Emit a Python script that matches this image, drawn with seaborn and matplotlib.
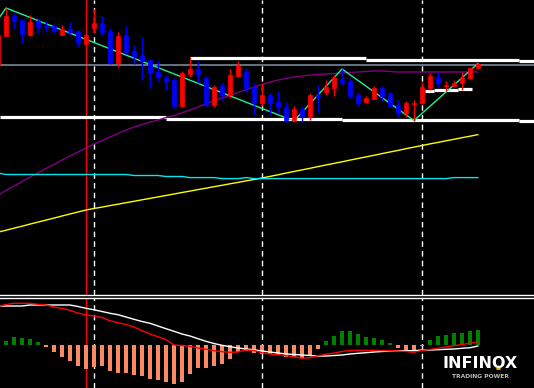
import numpy as np
import pandas as pd
import matplotlib
matplotlib.use("Agg")
import matplotlib.pyplot as plt
from matplotlib.lines import Line2D
import seaborn as sns

# bar -1 is the half cut candle on the left edge
bars = list(range(-1, 60))

opens = [235, 264, 284, 280, 265, 279, 274, 274, 265, 271, 269, 256, 272, 277, 269, 237,
         265, 249, 245, 240, 228, 222, 220, 194, 226, 231, 222, 195, 214, 205, 224, 228,
         213, 197, 205, 198, 193, 180, 191, 183, 205, 208, 212, 221, 219, 205, 198, 201,
         212, 207, 195, 187, 196, 197, 212, 223, 214.5, 214, 217, 222, 232]
highs = [268, 292, 287, 281, 285, 282, 279, 276, 275, 278, 270, 266, 291, 284, 272, 268,
         274, 255, 263, 241, 240, 225, 222, 229, 243, 239, 224, 215, 217, 231, 239, 232,
         217, 217, 207, 209, 198, 194, 194, 207, 215, 220, 225, 231, 222, 208, 204, 214,
         214, 208, 200, 199, 200, 218, 227, 228, 219, 220, 228, 232, 237]
lows = [234, 264, 271, 257, 264, 267, 268, 267, 265, 265, 253, 255, 267, 265, 236, 233,
        246, 236, 220, 212, 219, 210, 192, 193, 223, 217, 194, 193, 200, 202, 223, 208,
        185, 194, 185, 187, 178, 178, 178, 180, 188, 205, 204, 215, 202, 194, 197, 201,
        199, 193, 183, 183, 179, 196, 210, 213, 209, 213, 210, 221, 231]
closes = [265, 284, 279, 266, 278, 273, 273, 269, 271, 268, 257, 265, 277, 268, 237, 264,
          248, 244, 239, 227, 223, 219, 194, 227, 231, 226, 195, 213, 205, 225, 234, 212,
          197, 205, 197, 193, 180, 191, 183, 205, 203, 213, 222, 218, 204, 197, 202, 212,
          204, 194, 187, 197, 197, 213, 224, 217, 215, 217, 222, 232, 236]

ma_purple = [105, 109.5, 114, 118.5, 123, 127, 131.5, 135.5, 140, 144, 148, 152, 156, 159.5,
             163, 166.5, 170, 173, 175.5, 178, 180, 182.5, 184.5, 187, 190, 193, 196.5, 199.5,
             202, 204.5, 207.5, 210.5, 213, 215.5, 218, 220, 221.5, 223, 224, 225, 225.5, 226,
             226.5, 227, 227.5, 228, 228.5, 229, 229, 228.5, 228, 228, 228, 228, 228, 228,
             228, 228, 228, 228, 228]
ma_yellow = [67.8, 69.8, 71.8, 73.8, 75.9, 77.9, 79.9, 81.9, 84.0, 86.0, 88.0, 90.0, 91.5, 92.9,
             94.4, 95.8, 97.3, 98.7, 100.2, 101.6, 103.1, 104.5, 106.0, 107.5, 108.9, 110.4,
             111.8, 113.3, 114.7, 116.2, 117.6, 119.1, 120.5, 122.0, 123.6, 125.2, 126.9, 128.5,
             130.1, 131.7, 133.4, 135.0, 136.6, 138.2, 139.9, 141.5, 143.1, 144.7, 146.4, 148.0,
             149.6, 151.3, 152.9, 154.5, 156.1, 157.6, 159.2, 160.7, 162.3, 163.8, 165.4]
ma_cyan = [127, 125.5, 125.5, 125.5, 125.5, 125.5, 125.5, 125.5, 125.5, 125.5, 125.5, 125.5,
           125.5, 125.5, 125.5, 125.5, 125.5, 124.5, 124.5, 124.5, 124.5, 123.5, 123.5, 123.5,
           122.4, 122.4, 122.4, 122.4, 121.4, 121.4, 121.4, 122.4, 121.4, 121.4, 121.4, 121.4,
           121.4, 121.4, 121.4, 121.4, 121.4, 121.4, 121.4, 121.4, 121.4, 121.4, 121.4, 121.4,
           121.4, 121.4, 121.4, 121.4, 121.4, 121.4, 121.4, 121.4, 121.4, 122.4, 122.4, 122.4,
           122.4]

zigzag_bars = [-2, 0, 36, 42, 51, 59]
zigzag_vals = [269, 292, 179, 231, 179.5, 236.5]

gray_level = 235.5
# (first bar, last bar, level)
resistance = [(23, 45, 242), (45, 64.1, 240.5), (64.1, 66, 239.5)]
support = [(-0.75, 20, 183), (20, 42, 181.5), (42, 64.1, 180.3), (64.1, 66, 179.3)]
short_line = [(52.4, 53.5, 209.3), (53.5, 56.5, 210), (56.5, 58.2, 211)]

macd_white = [39, 39, 39, 39, 40, 40, 40, 40, 40, 40, 38.5, 36.7, 35.2, 33.5, 31.7, 30.3, 28,
              25.7, 23.5, 21.7, 19, 16.3, 13.7, 11, 9, 6.3, 3.7, 1.5, -0.3, -1.7, -3, -4, -4.7,
              -6, -7, -8, -9, -9.5, -10, -10.5, -11, -11, -10.5, -10, -9, -8.3, -7.7, -7, -6.5,
              -6, -5.7, -5.7, -5.7, -5, -5, -4.7, -4.3, -4, -3.3, -2.7, -1]
macd_red = [38.5, 40.5, 41.7, 41.7, 41.7, 40.7, 40, 38, 36.5, 34.7, 32, 30, 29, 27.5, 24.3, 22.3,
            20.5, 18, 14.3, 11, 8.3, 5.3, 0, -0.5, -1.3, -3, -4.2, -5.7, -6.7, -7.3, -7, -5,
            -5.5, -7.7, -9, -9.7, -10.7, -11.7, -13.3, -12.7, -10.7, -9.3, -8, -6.5, -5.5, -5.3,
            -5.3, -5.3, -5.5, -5.7, -6, -6.5, -7.3, -5.5, -4.3, -3.3, -1.7, -0.7, 0.5, 1.7, 3.3]
hist = [4, 8, 7, 6, 3, -2, -7, -12, -16, -21, -24, -22, -21, -26, -28, -28, -30, -31, -34, -35,
        -37, -39, -37, -29, -23, -23, -21, -19, -14, -7, -6, -8, -8.5, -9, -10, -12, -12, -13,
        -10, -4, 4, 9, 14, 14, 11, 8, 7, 5, 2, -3, -5, -5, -1, 5, 9, 10, 12, 12.5, 14, 15]

marker_bar = 10
session_breaks = [11, 32, 52]

sns.set_theme(style="dark", rc={"axes.facecolor": "black", "figure.facecolor": "black"})

fig = plt.figure(figsize=(5.34, 3.88), dpi=100)
ax = fig.add_axes([0, 93 / 388, 1, 295 / 388])
ax2 = fig.add_axes([0, 0, 1, 90 / 388])

df = pd.DataFrame({"bar": bars, "open": opens, "high": highs, "low": lows, "close": closes})
df["color"] = np.where(df["close"] >= df["open"], "#ff0000", "#0000ff")

for a in (ax, ax2):
    a.axvline(marker_bar, color="#ff0000", lw=1, zorder=1)
    for b in session_breaks:
        a.axvline(b, color="white", lw=1, ls=(0, (4, 3)), zorder=1)

# levels
ax.axhline(gray_level, color="#778899", lw=1.2, zorder=2)
for segs in (resistance, support, short_line):
    for x0, x1, lvl in segs:
        ax.hlines(lvl, x0, x1, color="white", lw=2.3, zorder=2)

# moving averages
sns.lineplot(x=bars, y=ma_purple, ax=ax, color="#800080", lw=1, zorder=3)
sns.lineplot(x=bars, y=ma_yellow, ax=ax, color="#ffff00", lw=1, zorder=3)
sns.lineplot(x=bars, y=ma_cyan, ax=ax, color="#00e5ee", lw=1, zorder=3)
sns.lineplot(x=zigzag_bars, y=zigzag_vals, ax=ax, color="#20f090", lw=1, zorder=3)

# candles
ax.vlines(df["bar"], df["low"], df["high"], colors=df["color"], lw=1, zorder=4)
ax.bar(df["bar"], df["close"] - df["open"], bottom=df["open"], width=0.62,
       color=df["color"], edgecolor=df["color"], lw=0.5, zorder=5)

ax.set_xlim(-0.75, 66)
ax.set_ylim(5, 300)

# MACD pane
hbars = bars[1:]
hcol = ["#008000" if v > 0 else "#fa8a64" for v in hist]
ax2.bar(hbars, hist, width=0.4, color=hcol, lw=0, zorder=2)
sns.lineplot(x=bars, y=macd_white, ax=ax2, color="white", lw=1, zorder=3)
sns.lineplot(x=bars, y=macd_red, ax=ax2, color="#ff0000", lw=1, zorder=3)
ax2.set_xlim(-0.75, 66)
ax2.set_ylim(-43, 47)

for a in (ax, ax2):
    a.set_xticks([])
    a.set_yticks([])
    a.set_xlabel("")
    a.set_ylabel("")
    a.grid(False)
    for s in a.spines.values():
        s.set_visible(False)
ax.spines["bottom"].set_visible(True)
ax.spines["bottom"].set_color("white")
ax.spines["bottom"].set_linewidth(1)
ax2.spines["top"].set_visible(True)
ax2.spines["top"].set_color("white")
ax2.spines["top"].set_linewidth(1)

# logo
fig.text(480 / 534, (388 - 363.5) / 388, "INFINOX", color="white",
         ha="center", va="center", fontsize=11.5, family="DejaVu Sans", weight="bold")
fig.text(480 / 534, (388 - 377) / 388, "TRADING POWER", color="#bdbdbd",
         ha="center", va="center", fontsize=4.3, family="DejaVu Sans", weight="bold")
fig.add_artist(Line2D([498 / 534], [(388 - 367) / 388], marker="^", markersize=2.5,
                      color="#e8b400", transform=fig.transFigure))

fig.savefig("out.png", dpi=100, facecolor="black")
